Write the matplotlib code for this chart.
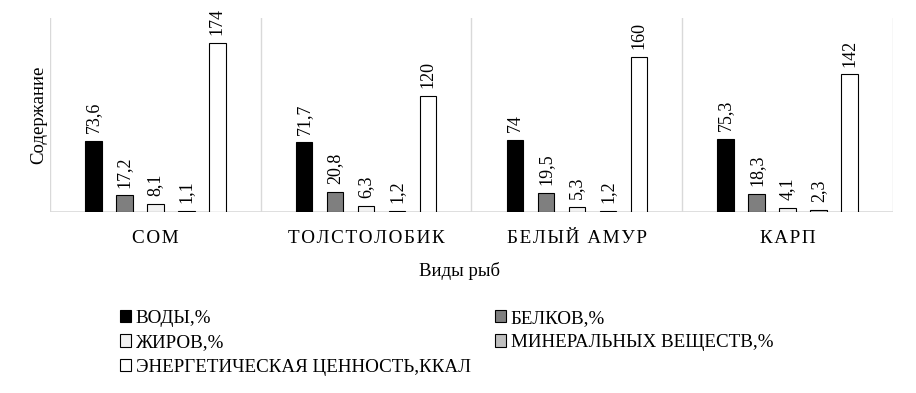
import numpy as np
import matplotlib.pyplot as plt
from matplotlib.patches import Patch

plt.rcParams['font.family'] = ['Liberation Serif', 'DejaVu Serif']

# fish species and content values
fish = ["СОМ", "ТОЛСТОЛОБИК", "БЕЛЫЙ АМУР", "КАРП"]
series = ["ВОДЫ,%", "БЕЛКОВ,%", "ЖИРОВ,%", "МИНЕРАЛЬНЫХ ВЕЩЕСТВ,%", "ЭНЕРГЕТИЧЕСКАЯ ЦЕННОСТЬ,ККАЛ"]
water = [73.6, 71.7, 74, 75.3]
protein = [17.2, 20.8, 19.5, 18.3]
fat = [8.1, 6.3, 5.3, 4.1]
minerals = [1.1, 1.2, 1.2, 2.3]
energy = [174, 120, 160, 142]
colors = ["#000000", "#7f7f7f", "#f2f2f2", "#bfbfbf", "#ffffff"]

values = [water, protein, fat, minerals, energy]

fig = plt.figure(figsize=(9.16, 3.93), dpi=100)
ax = fig.add_axes([50/916, 1 - 212/393, 843/916, 194/393])

x = np.arange(len(fish))
step = 0.147
width = 0.078
for i, (vals, c) in enumerate(zip(values, colors)):
    pos = x + (i - 2) * step
    ax.bar(pos, vals, width=width, color=c, edgecolor="black", linewidth=0.8, zorder=3)
    for p, v in zip(pos, vals):
        txt = f"{v:g}".replace(".", ",")
        ax.text(p, v + 8, txt, rotation=90, ha="center", va="bottom", fontsize=13, zorder=4)

ax.set_xlim(-0.5, 3.5)
ax.set_ylim(0, 200)
for b in [0.5, 1.5, 2.5, 3.5, -0.5]:
    ax.axvline(b, color="#d9d9d9", linewidth=1, zorder=1)
for s in ax.spines.values():
    s.set_visible(False)
ax.axhline(0, color="#d9d9d9", linewidth=1.2, zorder=2)
ax.set_yticks([])
ax.set_xticks(x)
ax.set_xticklabels(["\u200a".join(list(f)) for f in fish], fontsize=13.8)
ax.tick_params(axis="x", length=0, pad=13)
ax.set_xlabel("Виды рыб", fontsize=13.5)
ax.xaxis.set_label_coords(0.486, -0.26)
ax.set_ylabel("Содержание", fontsize=13.5, labelpad=2)

handles = [Patch(facecolor=c, edgecolor="black", linewidth=0.8) for c in colors]
order = [0, 2, 4, 1, 3]
fig.legend([handles[i] for i in order], [series[i] for i in order],
           ncol=2, loc="upper left", bbox_to_anchor=(112/916, 1 - 302/393),
           frameon=False, fontsize=13.7, handlelength=0.6, handleheight=0.6,
           handletextpad=0.25, columnspacing=1.25, labelspacing=0.4, borderaxespad=0)

fig.savefig("out.png", dpi=100)
